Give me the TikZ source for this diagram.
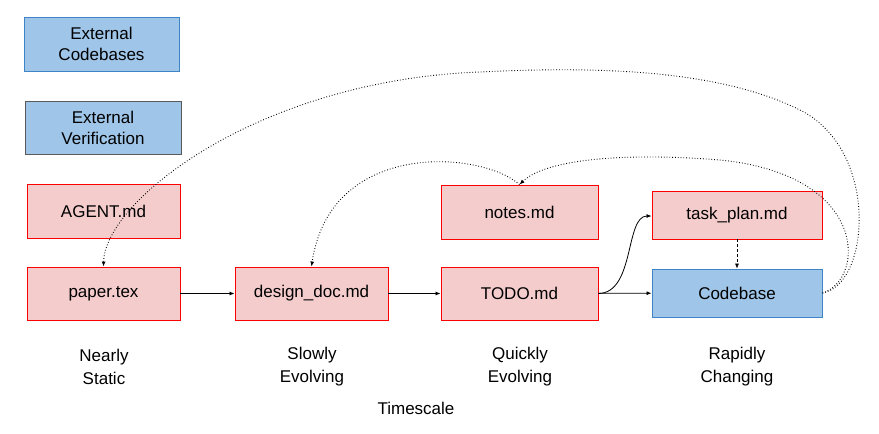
\documentclass[tikz,border=0pt]{standalone}
\usepackage{fontspec}
\setmainfont{Liberation Sans}
\usetikzlibrary{arrows.meta}
\definecolor{bfill}{HTML}{9FC5E8}
\definecolor{bdraw}{HTML}{3D85C6}
\definecolor{pfill}{HTML}{F4CCCC}
\definecolor{pdraw}{HTML}{FF0000}
\begin{document}
\begin{tikzpicture}[x=1pt,y=-1pt,
  box/.style={draw, line width=0.9pt, align=center, font=\fontsize{17}{21}\selectfont, inner sep=0pt},
  pink/.style={box, fill=pfill, draw=pdraw},
  blue/.style={box, fill=bfill, draw=bdraw},
  lbl/.style={align=center, font=\fontsize{17}{23}\selectfont},
  arr/.style={-{Latex[length=5pt,width=4pt]}, line width=0.8pt},
  dot/.style={arr, dotted, line width=0.9pt}]
\useasboundingbox (0,0) rectangle (879,434);
\node[blue, minimum width=155pt, minimum height=54pt] (ec) at (101.5,44) {External\\Codebases};
\node[blue, draw=black!65, minimum width=156pt, minimum height=53pt] (ev) at (103,127.5) {External\\Verification};
\node[pink, minimum width=153pt, minimum height=54pt] (agent) at (103.5,211) {AGENT.md};
\node[pink, minimum width=153pt, minimum height=53pt] (paper) at (103.5,293.5) {paper.tex};
\node[pink, minimum width=153pt, minimum height=53pt] (design) at (311.5,293.5) {design\_doc.md};
\node[pink, minimum width=157pt, minimum height=54pt] (notes) at (519.5,212) {notes.md};
\node[pink, minimum width=157pt, minimum height=53pt] (todo) at (519.5,293.5) {TODO.md};
\node[pink, minimum width=170pt, minimum height=48pt] (task) at (737,215) {task\_plan.md};
\node[blue, minimum width=170pt, minimum height=48pt] (code) at (737,293) {Codebase};
\node[lbl] (l1) at (104,367) {Nearly\\Static};
\node[lbl] (l2) at (312,367) {Slowly\\Evolving};
\node[lbl] (l3) at (520,367) {Quickly\\Evolving};
\node[lbl] (l4) at (737,367) {Rapidly\\Changing};
\node[lbl] (ts) at (416,408) {Timescale};
\draw[arr] (paper) -- (design);
\draw[arr] (design) -- (todo);
\draw[arr] (todo) -- (code);
\draw[arr] (todo.east) .. controls (635,293) and (625,216) .. (task.west |- 0,216);
\draw[arr, densely dashed, line width=0.6pt] (task) -- (code);
\draw[dot] (code.east) .. controls (870,285) and (880,150) .. (800,110) .. controls (720,70) and (600,66) .. (480,72) .. controls (260,80) and (105,200) .. (paper.north);
\draw[dot] (code.east) .. controls (865,280) and (870,175) .. (720,160) .. controls (620,152) and (545,160) .. (notes.north);
\draw[dot] (notes.north) .. controls (480,150) and (330,140) .. (design.north);
\end{tikzpicture}
\end{document}
